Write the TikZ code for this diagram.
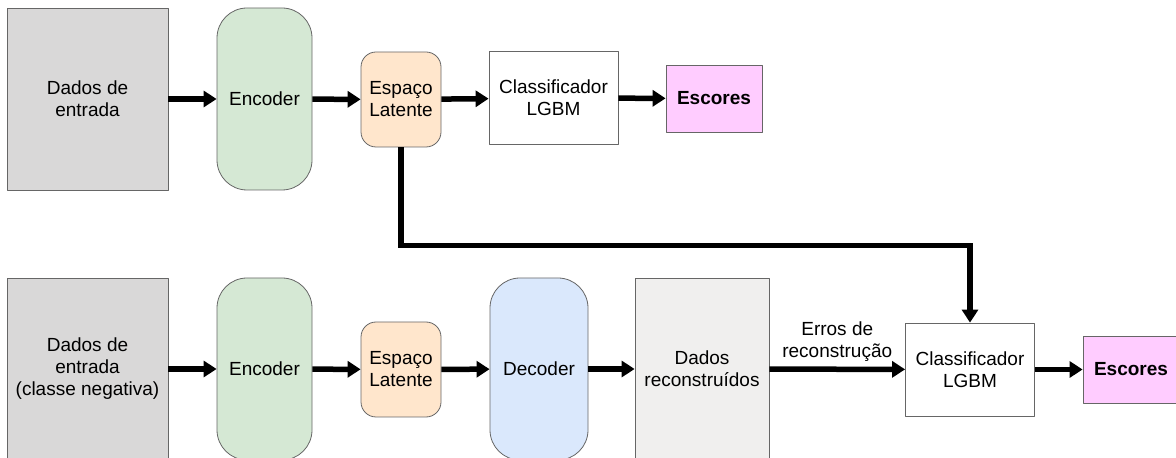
\documentclass[tikz,border=0pt]{standalone}
\usepackage{fontspec}
\setmainfont{Liberation Sans}
\usetikzlibrary{arrows.meta}

\definecolor{datafill}{HTML}{D9D8D8}
\definecolor{encfill}{HTML}{D5E8D4}
\definecolor{latfill}{HTML}{FFE6CC}
\definecolor{decfill}{HTML}{DAE8FC}
\definecolor{recfill}{HTML}{F0EFEE}
\definecolor{scorefill}{HTML}{FFCCFF}
\definecolor{edgecol}{HTML}{666666}

\begin{document}
\begin{tikzpicture}[>={Triangle[length=13bp,width=16bp]},line join=bevel,
  box/.style={draw=edgecol,line width=0.8bp,rectangle,align=center,inner sep=0pt,
    font=\fontsize{19bp}{22bp}\selectfont},
  databox/.style={box,fill=datafill,minimum width=161bp,minimum height=182bp},
  encbox/.style={box,fill=encfill,rounded corners=30bp,minimum width=95bp,minimum height=182bp},
  latbox/.style={box,fill=latfill,rounded corners=15bp,minimum width=80bp,minimum height=95bp},
  decbox/.style={box,fill=decfill,rounded corners=30bp,minimum width=98bp,minimum height=182bp},
  recbox/.style={box,fill=recfill,minimum width=134bp,minimum height=182bp},
  clfbox/.style={box,fill=white,minimum width=129bp,minimum height=93bp},
  scorebox/.style={box,fill=scorefill,minimum width=96bp,minimum height=67bp,
    font=\fontsize{19bp}{22bp}\selectfont\bfseries},
  flow/.style={->,line width=5.5bp,line join=miter},
]
\useasboundingbox (0bp,0bp) rectangle (1176bp,458bp);
\clip (0bp,0bp) rectangle (1176bp,458bp);
%% upper row
  \node (in1) at (87.5bp,359bp) [databox] {Dados de\\entrada};
  \node (enc1) at (264.5bp,359bp) [encbox] {Encoder};
  \node (lat1) at (401bp,358.5bp) [latbox] {Espaço\\Latente};
  \node (clf1) at (553.5bp,360bp) [clfbox] {Classificador\\LGBM};
  \node (sc1) at (714bp,359.5bp) [scorebox] {Escores};
%% lower row
  \node (in2) at (87.5bp,89bp) [databox] {Dados de\\entrada\\(classe negativa)};
  \node (enc2) at (264.5bp,89bp) [encbox] {Encoder};
  \node (lat2) at (401bp,88.5bp) [latbox] {Espaço\\Latente};
  \node (dec) at (539bp,89bp) [decbox] {Decoder};
  \node (rec) at (702bp,89bp) [recbox] {Dados\\reconstruídos};
  \node (clf2) at (970bp,88.5bp) [clfbox] {Classificador\\LGBM};
  \node (sc2) at (1131bp,88.5bp) [scorebox] {Escores};
%% connectors
  \draw [flow] (in1) -- (enc1);
  \draw [flow] (enc1) -- (lat1);
  \draw [flow] (lat1) -- (clf1);
  \draw [flow] (clf1) -- (sc1);
  \draw [flow] (in2) -- (enc2);
  \draw [flow] (enc2) -- (lat2);
  \draw [flow] (lat2) -- (dec);
  \draw [flow] (dec) -- (rec);
  \draw [flow] (rec) -- node [above=2bp,align=center,font=\fontsize{19bp}{22bp}\selectfont] {Erros de\\reconstrução} (clf2);
  \draw [flow] (clf2) -- (sc2);
  \draw [flow] (lat1.south) -- ++(0bp,-98bp) -| (clf2.north);
%
\end{tikzpicture}
\end{document}
